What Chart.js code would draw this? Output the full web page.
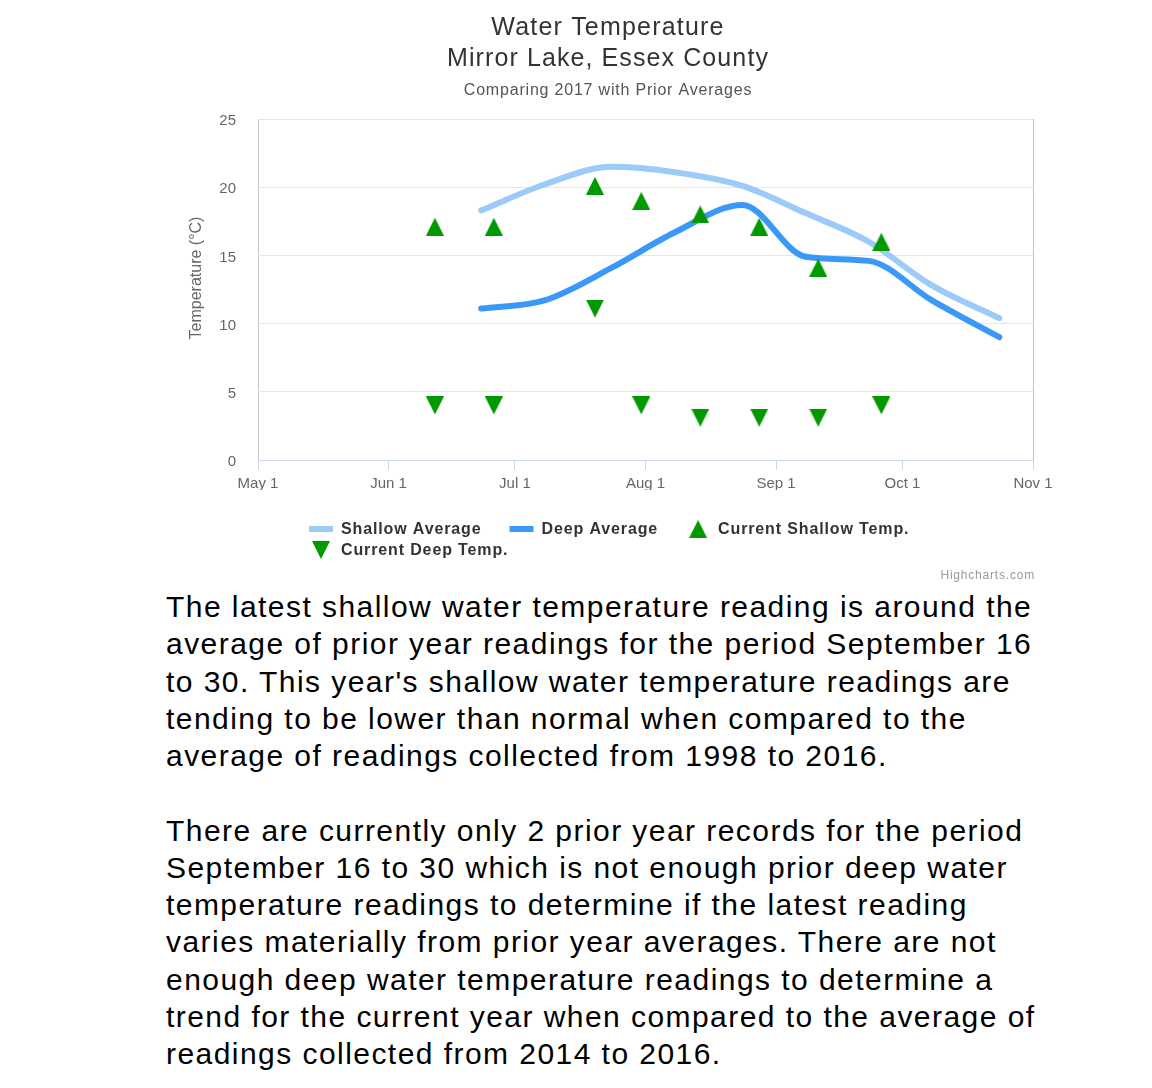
<!DOCTYPE html>
<html>
<head>
<meta charset="utf-8">
<script src="https://cdn.jsdelivr.net/npm/chart.js@4/dist/chart.umd.min.js"></script>
<style>
  html, body { margin: 0; padding: 0; background: #fff; }
  #wrap { position: absolute; left: 0; top: 0; width: 1152px; height: 588px; }
  #txt { position: absolute; left: 166px; top: 588px; width: 884px; font-family: "Liberation Sans", Arial, sans-serif; font-size: 30px; line-height: 37.25px; letter-spacing: 1.45px; color: #000; }
  #txt p { margin: 0 0 37.25px 0; }
</style>
</head>
<body>
<div id="wrap"><canvas id="c" width="1152" height="588"></canvas></div>
<div id="txt">
<p>The latest shallow water temperature reading is around the average of prior year readings for the period September 16 to 30. This year's shallow water temperature readings are tending to be lower than normal when compared to the average of readings collected from 1998 to 2016.</p>
<p>There are currently only 2 prior year records for the period September 16 to 30 which is not enough prior deep water temperature readings to determine if the latest reading varies materially from prior year averages. There are not enough deep water temperature readings to determine a trend for the current year when compared to the average of readings collected from 2014 to 2016.</p>
</div>
<script>
// ---- data (x values are day-of-year, 2017) ----
const titleLines = ['Water Temperature', 'Mirror Lake, Essex County'];
const subtitleText = 'Comparing 2017 with Prior Averages';
const yAxisTitle = 'Temperature (°C)';
const tickDays   = [121, 152, 182, 213, 244, 274, 305];
const tickLabels = ['May 1', 'Jun 1', 'Jul 1', 'Aug 1', 'Sep 1', 'Oct 1', 'Nov 1'];
const avgDays    = [174, 189, 205, 220, 236, 251, 266, 281, 297];
const shallowAvg = [18.3, 20.2, 21.5, 21.1, 20.1, 18.1, 16.0, 12.8, 10.4];
const deepAvg    = [11.1, 11.7, 14.1, 16.7, 18.7, 14.9, 14.6, 11.7, 9.0];
const readDays   = [163, 177, 201, 212, 226, 240, 254, 269];
const shallowNow = [17.1, 17.1, 20.1, 19.0, 18.0, 17.1, 14.1, 16.0];
const deepNow    = [4.0, 4.0, 11.1, 4.0, 3.1, 3.1, 3.1, 4.0];
const seriesNames = ['Shallow Average', 'Deep Average', 'Current Shallow Temp.', 'Current Deep Temp.'];
const yTicks = [0, 5, 10, 15, 20, 25];

const C_SHALLOW = '#9ccbfa';
const C_DEEP = '#3a98f8';
const C_GREEN = '#009900';
const FONT = '"Liberation Sans", Arial, sans-serif';

function triImg(up) {
  const cv = document.createElement('canvas');
  cv.width = 18; cv.height = 18;
  const g = cv.getContext('2d');
  g.fillStyle = C_GREEN;
  g.beginPath();
  if (up) { g.moveTo(9, 0); g.lineTo(18, 18); g.lineTo(0, 18); }
  else { g.moveTo(0, 0); g.lineTo(18, 0); g.lineTo(9, 18); }
  g.closePath(); g.fill();
  return cv;
}
const upTri = triImg(true), downTri = triImg(false);

const zip = (xs, ys) => xs.map((x, i) => ({ x: x, y: ys[i] }));

const decorPlugin = {
  id: 'hcDecor',
  afterDraw(chart) {
    const ctx = chart.ctx;
    ctx.save();
    ctx.textBaseline = 'middle';
    // titles
    ctx.textAlign = 'center';
    ctx.fillStyle = '#333333';
    ctx.font = '25px ' + FONT;
    ctx.letterSpacing = '1.2px';
    ctx.fillText(titleLines[0], 608, 28);
    ctx.letterSpacing = '1.1px';
    ctx.fillText(titleLines[1], 608, 59);
    ctx.fillStyle = '#555555';
    ctx.font = '16px ' + FONT;
    ctx.letterSpacing = '0.8px';
    ctx.fillText(subtitleText, 608, 91);
    // y axis title
    ctx.save();
    ctx.translate(197, 278);
    ctx.rotate(-Math.PI / 2);
    ctx.letterSpacing = '0px';
    ctx.fillStyle = '#666666';
    ctx.font = '16px ' + FONT;
    ctx.fillText(yAxisTitle, 0, 0);
    ctx.restore();
    // legend
    ctx.font = 'bold 16px ' + FONT;
    ctx.letterSpacing = '0.87px';
    ctx.textAlign = 'left';
    const sym = 24, symPad = 8, gap = 28;
    const items = chart.data.datasets.map((d) => ({ name: d.label, ds: d, w: sym + symPad + ctx.measureText(d.label).width }));
    const row1 = items.slice(0, 3), row2 = items.slice(3);
    const w1 = row1.reduce((s, it) => s + it.w, 0) + gap * (row1.length - 1);
    const startX = Math.round(609 - w1 / 2);
    const drawRow = (row, y) => {
      let x = startX;
      row.forEach((it) => {
        if (it.ds.showLine !== false) {
          ctx.strokeStyle = it.ds.borderColor;
          ctx.lineWidth = 6;
          ctx.beginPath(); ctx.moveTo(x, y); ctx.lineTo(x + sym, y); ctx.stroke();
        } else {
          ctx.drawImage(it.ds.pointStyle, x + sym / 2 - 9, y - 9);
        }
        ctx.fillStyle = '#333333';
        ctx.fillText(it.name, x + sym + symPad, y + 1);
        x += it.w + gap;
      });
    };
    drawRow(row1, 529);
    drawRow(row2, 550);
    // credits
    ctx.font = '12px ' + FONT;
    ctx.letterSpacing = '0.8px';
    ctx.fillStyle = '#999999';
    ctx.textAlign = 'right';
    ctx.fillText('Highcharts.com', 1035, 576);
    ctx.restore();
  }
};

new Chart(document.getElementById('c'), {
  type: 'line',
  data: {
    datasets: [
      { label: seriesNames[0], data: zip(avgDays, shallowAvg), borderColor: C_SHALLOW, backgroundColor: C_SHALLOW, borderWidth: 6, borderCapStyle: 'round', cubicInterpolationMode: 'monotone', pointRadius: 0, fill: false, order: 3 },
      { label: seriesNames[1], data: zip(avgDays, deepAvg), borderColor: C_DEEP, backgroundColor: C_DEEP, borderWidth: 6, borderCapStyle: 'round', cubicInterpolationMode: 'monotone', pointRadius: 0, fill: false, order: 2 },
      { label: seriesNames[2], data: zip(readDays, shallowNow), showLine: false, pointStyle: upTri, pointRadius: 9, borderColor: C_GREEN, backgroundColor: C_GREEN, order: 1 },
      { label: seriesNames[3], data: zip(readDays, deepNow), showLine: false, pointStyle: downTri, pointRadius: 9, borderColor: C_GREEN, backgroundColor: C_GREEN, order: 1 }
    ]
  },
  options: {
    responsive: false,
    animation: false,
    devicePixelRatio: 1,
    layout: { padding: { left: 183, right: 119, top: 119, bottom: 98 } },
    plugins: {
      legend: { display: false },
      tooltip: { enabled: false },
      title: { display: false },
      subtitle: { display: false }
    },
    scales: {
      x: {
        type: 'linear',
        min: tickDays[0],
        max: tickDays[tickDays.length - 1],
        afterBuildTicks: (s) => { s.ticks = tickDays.map((v) => ({ value: v })); },
        afterFit: (s) => { s.height = 30; },
        ticks: {
          callback: (v) => { const i = tickDays.indexOf(v); return i >= 0 ? tickLabels[i] : ''; },
          color: '#666666', font: { family: FONT, size: 15 }, padding: 5, maxRotation: 0, autoSkip: false
        },
        grid: {
          color: (c) => (c.index === 0 || c.index === tickDays.length - 1) ? '#c4c4c4' : 'rgba(0,0,0,0)',
          tickColor: '#ccd6eb', tickLength: 10, drawTicks: true, lineWidth: 1
        },
        border: { display: true, color: '#ccd6eb', width: 1 }
      },
      y: {
        min: 0, max: 25,
        afterBuildTicks: (s) => { s.ticks = yTicks.map((v) => ({ value: v })); },
        afterFit: (s) => { s.width = 75; },
        ticks: { color: '#666666', font: { family: FONT, size: 15 }, padding: 22, labelOffset: 2 },
        grid: { color: '#e6e6e6', drawTicks: false, lineWidth: 1 },
        border: { display: false },
        title: { display: false }
      }
    }
  },
  plugins: [decorPlugin]
});
</script>
</body>
</html>
